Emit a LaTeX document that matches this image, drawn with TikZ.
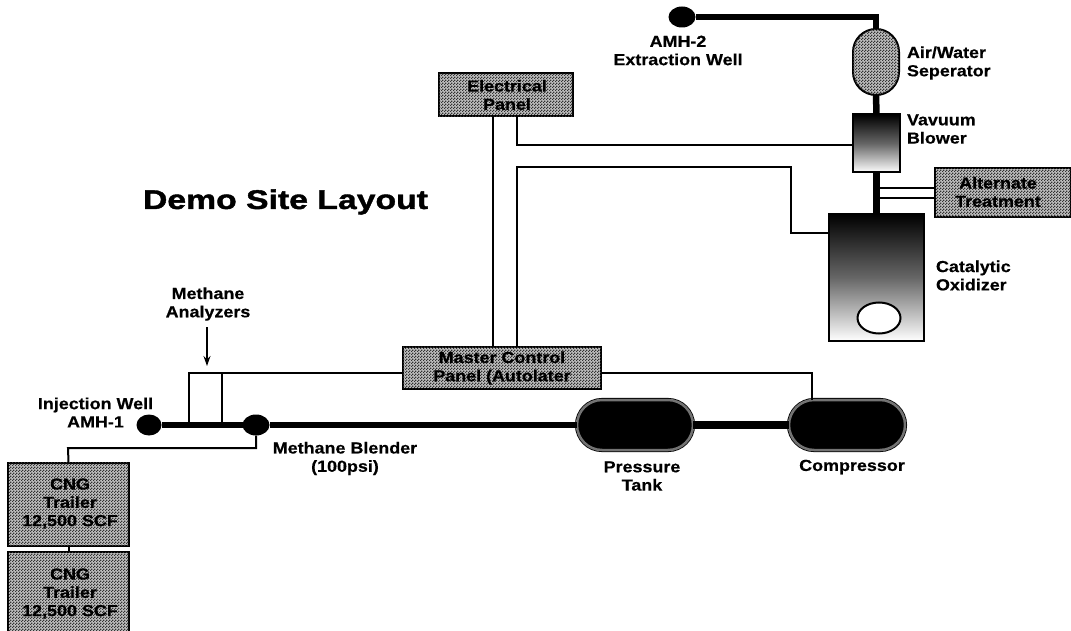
\documentclass[tikz,border=0pt]{standalone}
\usepackage{fontspec}
\setmainfont{Liberation Sans}[BoldFeatures={FakeStretch=1.12, FakeBold=0.5}]
\newfontfamily\titlefont{Liberation Sans}[BoldFeatures={FakeStretch=1.25, FakeBold=1.5}]
\usepackage{tikz}
\usetikzlibrary{shapes, arrows.meta, patterns}

\pgfdeclarepatternformonly{dither}{\pgfqpoint{0pt}{0pt}}{\pgfqpoint{3pt}{3pt}}{\pgfqpoint{3pt}{3pt}}{
    \pgfpathrectangle{\pgfqpoint{0pt}{0pt}}{\pgfqpoint{1.5pt}{1.5pt}}
    \pgfpathrectangle{\pgfqpoint{1.5pt}{1.5pt}}{\pgfqpoint{1.5pt}{1.5pt}}
    \pgfusepath{fill}
}

\begin{document}
\begin{tikzpicture}[x=1pt, y=-1pt,
    every node/.style={inner sep=0pt, outer sep=0pt},
    label/.style={align=center, font=\bfseries\fontsize{16}{18.3}\selectfont},
    leftlabel/.style={label, align=left, anchor=west},
    box/.style={label, rectangle, draw=black, line width=2pt, fill=black!25, postaction={pattern=dither, pattern color=black!80}},
    well/.style={ellipse, fill=black, minimum width=27pt, minimum height=21pt},
    tank/.style={rectangle, rounded corners=25pt, draw=black, double=black!55, double distance=2.5pt, line width=0.8pt, fill=black, minimum width=116pt, minimum height=50pt},
    fade/.style={rectangle, draw=black, line width=2pt, top color=black, bottom color=white, middle color=black!60},
    wire/.style={line width=2pt},
    pipe/.style={line width=6.5pt}]
    \useasboundingbox (0,0) rectangle (1071,631);

    % Define wells and tanks
    \node[well] (wellB) at (682,17) {};
    \node[well, minimum width=25pt] (wellA) at (149,425) {};
    \node[well] (blender) at (256,425) {};
    \node[tank] (pressure) at (635,425) {};
    \node[tank] (compressor) at (847,425) {};

    % Define treatment train
    \node[rectangle, rounded corners=23pt, draw=black, line width=2pt, fill=black!25, postaction={pattern=dither, pattern color=black!80}, minimum width=46pt, minimum height=66pt] (separator) at (876,62) {};
    \node[fade, minimum width=47pt, minimum height=58pt] (blower) at (876.5,143.5) {};
    \node[fade, minimum width=95pt, minimum height=127pt] (oxidizer) at (876.5,277.5) {};
    \node[ellipse, draw=black, line width=2pt, fill=white, minimum width=43pt, minimum height=31pt] (burner) at (879,318) {};

    % Define panels and trailers
    \node[box, minimum width=134pt, minimum height=43pt] (electrical) at (506,95) {};
    \node[box, minimum width=198pt, minimum height=42pt] (master) at (502,367.5) {};
    \node[box, minimum width=136pt, minimum height=49pt] (alternate) at (1003,193) {};
    \node[box, minimum width=121pt, minimum height=83pt] (trailerA) at (68.5,504) {};
    \node[box, minimum width=121pt, minimum height=83pt] (trailerB) at (68.5,593.5) {};

    % Draw process piping
    \draw[pipe] (wellB.east) -| (separator.north);
    \draw[pipe] (separator.south) -- (blower.north);
    \draw[pipe] (blower.south) -- (oxidizer.north);
    \draw[pipe] (wellA.east) -- (blender.west);
    \draw[pipe] (blender.east) -- (pressure.west);
    \draw[pipe, line width=8pt] (pressure.east) -- (compressor.west);

    % Draw control wiring
    \draw[wire] ([xshift=-13pt]electrical.south) -- ([xshift=-9pt]master.north);
    \draw[wire] ([xshift=11pt]electrical.south) |- ([yshift=-1.5pt]blower.west);
    \draw[wire] ([xshift=15pt]master.north) |- (791,167) |- ([yshift=44.5pt]oxidizer.west);
    \draw[wire] ([yshift=-5.5pt]master.east) -| ([xshift=-35pt]compressor.north);
    \draw[wire] ([yshift=-5.5pt]master.west) -| (189,422);
    \draw[wire] (222,373) -- (222,422);
    \draw[wire] (blender.south) |- (68,448) -- (trailerA.north);
    \draw[wire] (trailerA.south) -- (trailerB.north);
    \draw[wire] (877,188) -- ([yshift=5pt]alternate.west);
    \draw[wire] (877,198) -- ([yshift=-5pt]alternate.west);

    % Labels
    \node[label] (electricallabel) at (507,95) {Electrical\\Panel};
    \node[label] (masterlabel) at (502,368) {Master Control\\Panel (Autolater};
    \node[label] (alternatelabel) at (998,192) {Alternate\\Treatment};
    \node[label] (trailerAlabel) at (70,503.5) {CNG\\Trailer\\12,500 SCF};
    \node[label] (trailerBlabel) at (70,593.5) {CNG\\Trailer\\12,500 SCF};
    \node[label] (wellBlabel) at (678,50.5) {AMH-2\\Extraction Well};
    \node[leftlabel] (separatorlabel) at (907,63) {Air/Water\\Seperator};
    \node[leftlabel] (blowerlabel) at (907,129) {Vavuum\\Blower};
    \node[leftlabel] (oxidizerlabel) at (936,275.5) {Catalytic\\Oxidizer};
    \node[label] (analyzers) at (208,304) {Methane\\Analyzers};
    \node[label] (wellAlabel) at (95.5,412.5) {Injection Well\\AMH-1};
    \node[label] (blenderlabel) at (345,458.5) {Methane Blender\\(100psi)};
    \node[label] (pressurelabel) at (642,476) {Pressure\\Tank};
    \node[label] (compressorlabel) at (852,467) {Compressor};
    \node[font=\titlefont\bfseries\fontsize{27}{30}\selectfont] (title) at (285.5,202) {Demo Site Layout};

    \draw[-{Stealth[length=10pt, width=7pt]}, line width=1.2pt] (207,327) -- (207,366);
\end{tikzpicture}
\end{document}
